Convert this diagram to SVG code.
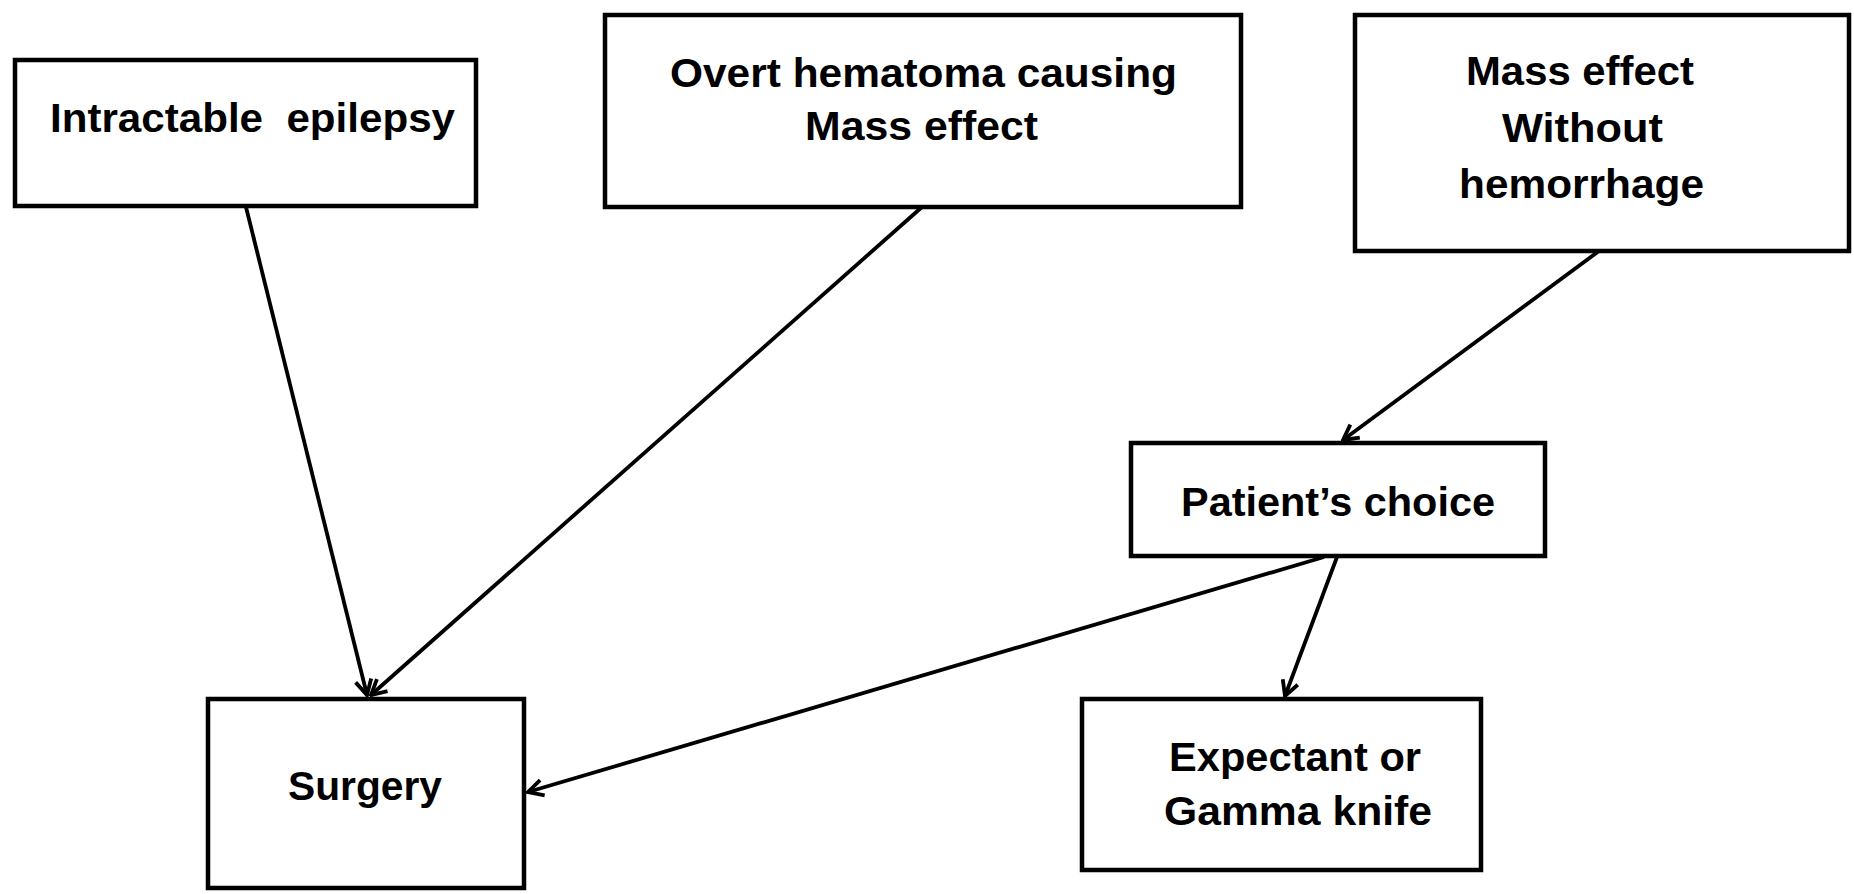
<svg xmlns="http://www.w3.org/2000/svg" width="1854" height="894" viewBox="0 0 1854 894">
<style>
.box{fill:#fff;stroke:#000;stroke-width:4.5}
.t{font-family:"Liberation Sans",Arial,sans-serif;font-weight:bold;font-size:40px;fill:#000;white-space:pre}
.c{stroke:#000;stroke-width:3.8;fill:none}
</style>
<defs>
<marker id="arr" viewBox="0 0 20 20" refX="18" refY="10" markerWidth="20" markerHeight="20" markerUnits="userSpaceOnUse" orient="auto">
<path d="M3,2 L18,10 L3,18" fill="none" stroke="#000" stroke-width="3.8"/>
</marker>
</defs>
<rect width="1854" height="894" fill="#fff"/>
<g id="connectors">
<line class="c" x1="246" y1="207" x2="367" y2="695" marker-end="url(#arr)"/>
<line class="c" x1="922" y1="207" x2="371" y2="695" marker-end="url(#arr)"/>
<line class="c" x1="1599" y1="251" x2="1343" y2="440" marker-end="url(#arr)"/>
<line class="c" x1="1324" y1="557" x2="528" y2="792" marker-end="url(#arr)"/>
<line class="c" x1="1337" y1="557" x2="1285" y2="696" marker-end="url(#arr)"/>
</g>
<g id="intractable">
<rect class="box" x="15" y="60" width="461" height="146"/>
<text class="t" x="50" y="132" textLength="405" lengthAdjust="spacingAndGlyphs">Intractable  epilepsy</text>
</g>
<g id="overt">
<rect class="box" x="605" y="15" width="636" height="192"/>
<text class="t" x="670" y="87" textLength="507" lengthAdjust="spacingAndGlyphs">Overt hematoma causing</text>
<text class="t" x="805" y="140" textLength="233" lengthAdjust="spacingAndGlyphs">Mass effect</text>
</g>
<g id="masseffect">
<rect class="box" x="1355" y="15" width="494" height="236"/>
<text class="t" x="1466" y="85" textLength="228" lengthAdjust="spacingAndGlyphs">Mass effect</text>
<text class="t" x="1502" y="142" textLength="161" lengthAdjust="spacingAndGlyphs">Without</text>
<text class="t" x="1459" y="198" textLength="245" lengthAdjust="spacingAndGlyphs">hemorrhage</text>
</g>
<g id="patient">
<rect class="box" x="1131" y="443" width="414" height="113"/>
<text class="t" x="1181" y="516" textLength="314" lengthAdjust="spacingAndGlyphs">Patient’s choice</text>
</g>
<g id="surgery">
<rect class="box" x="208" y="699" width="316" height="189"/>
<text class="t" x="288" y="800" textLength="154" lengthAdjust="spacingAndGlyphs">Surgery</text>
</g>
<g id="expectant">
<rect class="box" x="1082" y="699" width="399" height="171"/>
<text class="t" x="1169" y="771" textLength="252" lengthAdjust="spacingAndGlyphs">Expectant or</text>
<text class="t" x="1164" y="825" textLength="268" lengthAdjust="spacingAndGlyphs">Gamma knife</text>
</g>
</svg>
